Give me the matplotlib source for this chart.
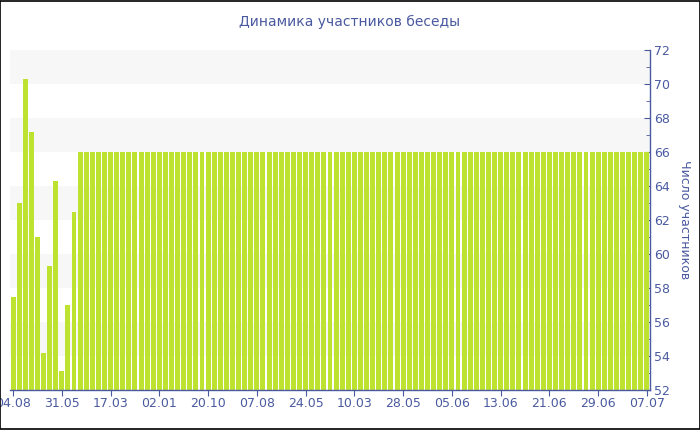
import matplotlib
matplotlib.use("Agg")
import matplotlib.pyplot as plt
from matplotlib.patches import Rectangle
from matplotlib.ticker import MultipleLocator

# ---- data ----
early_values = [57.5, 63.0, 70.3, 67.2, 61.0, 54.2, 59.3, 64.3, 53.1, 57.0, 62.5]
steady_value = 66.0
steady_count = 94
values = early_values + [steady_value] * steady_count

tick_labels = ["04.08", "31.05", "17.03", "02.01", "20.10", "07.08", "24.05",
               "10.03", "28.05", "05.06", "13.06", "21.06", "29.06", "07.07"]
tick_step = 8

title = "Динамика участников беседы"
y_label = "Число участников"

# ---- style ----
text_color = "#4a5aa0"
bar_color = "#bde22f"
band_color = "#f7f7f7"

fig = plt.figure(figsize=(7, 4.3), dpi=100)
ax = fig.add_axes([10 / 700, 1 - 390 / 430, 640 / 700, 340 / 430])

n = len(values)
x = list(range(n))
ymin, ymax = 52, 72

# alternating background bands
for lo in range(ymin + 2, ymax, 4):
    ax.axhspan(lo, lo + 2, color=band_color, zorder=0, lw=0)

ax.bar(x, [v - ymin for v in values], bottom=ymin, width=0.82,
       color=bar_color, zorder=2, linewidth=0)

ax.set_xlim(-0.5, n - 0.5)
ax.set_ylim(ymin, ymax)

ax.set_xticks([i * tick_step for i in range(len(tick_labels))])
ax.set_xticklabels(tick_labels)

ax.yaxis.tick_right()
ax.yaxis.set_label_position("right")
ax.yaxis.set_major_locator(MultipleLocator(2))
ax.yaxis.set_minor_locator(MultipleLocator(1))

for s in ["top", "left"]:
    ax.spines[s].set_visible(False)
for s in ["bottom", "right"]:
    ax.spines[s].set_color(text_color)
    ax.spines[s].set_linewidth(1)

ax.tick_params(axis="x", colors=text_color, labelsize=9, length=4,
               direction="out", pad=1)
ax.tick_params(axis="y", which="major", colors=text_color, labelsize=9,
               length=4, direction="in", pad=3)
ax.tick_params(axis="y", which="minor", colors=text_color, length=3,
               direction="in")

ax.set_ylabel(y_label, rotation=270, color=text_color, fontsize=9,
              labelpad=15)
fig.text(0.5, 1 - 22 / 430, title, ha="center", va="center",
         color=text_color, fontsize=10)

# outer frame
fig.patches.append(Rectangle((0.0007, 0.0012), 0.9986, 0.9976,
                             transform=fig.transFigure, fill=False,
                             edgecolor="black", linewidth=1.2))

fig.savefig("out.png", dpi=100)
